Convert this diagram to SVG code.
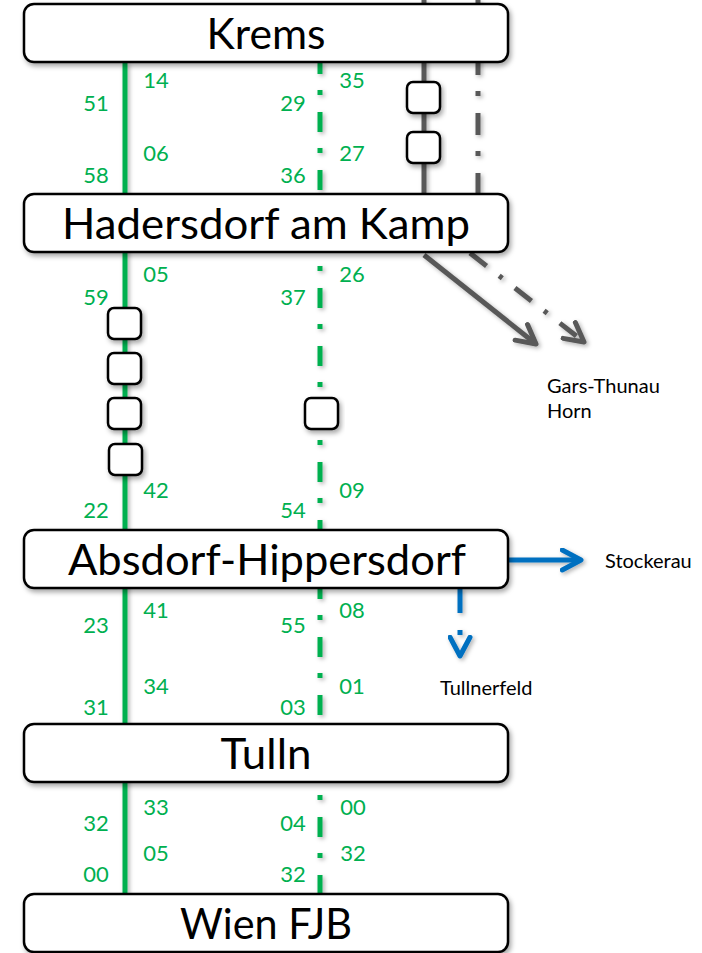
<svg xmlns="http://www.w3.org/2000/svg" width="702" height="953" viewBox="0 0 702 953">
<style>
.box{fill:#fff;stroke:#000;stroke-width:2.5;filter:url(#sh)}
.sq{fill:#fff;stroke:#000;stroke-width:2.5;filter:url(#sh)}
.st{font-family:Lato,"Open Sans",sans-serif;font-size:43px;fill:#000;text-anchor:middle}
.num{font-family:Lato,"Open Sans",sans-serif;font-size:22px;fill:#00B050;text-anchor:middle}
.lbl{font-family:Lato,"Open Sans",sans-serif;font-size:20px;fill:#000}
.g{stroke:#00B050;stroke-width:5;fill:none}
.gd{stroke:#00B050;stroke-width:5;fill:none;stroke-dasharray:20 16 5 17}
.k{stroke:#595959;stroke-width:5;fill:none}
.kd{stroke:#595959;stroke-width:5;fill:none;stroke-dasharray:22 16 5 17}
.b{stroke:#0070C0;stroke-width:5;fill:none}
</style>
<defs>
<filter id="sh" x="-20%" y="-20%" width="140%" height="160%">
<feDropShadow dx="2" dy="3" stdDeviation="2.5" flood-color="#000" flood-opacity="0.35"/>
</filter>
<filter id="lsh" x="-20%" y="-20%" width="140%" height="140%">
<feDropShadow dx="2" dy="2" stdDeviation="2" flood-color="#000" flood-opacity="0.3"/>
</filter>
<marker id="ak" viewBox="0 0 10 10" refX="8.5" refY="5" markerWidth="5" markerHeight="5" orient="auto" markerUnits="strokeWidth">
<path d="M1,1 L8.5,5 L1,9" fill="none" stroke="#595959" stroke-width="2" stroke-linecap="round" stroke-linejoin="round"/>
</marker>
<marker id="ab" viewBox="0 0 10 10" refX="8.5" refY="5" markerWidth="5" markerHeight="5" orient="auto" markerUnits="strokeWidth">
<path d="M1,1 L8.5,5 L1,9" fill="none" stroke="#0070C0" stroke-width="2" stroke-linecap="round" stroke-linejoin="round"/>
</marker>
</defs>

<g id="connectors" filter="url(#lsh)">
<line class="g" x1="125" y1="62" x2="125" y2="894"/>
<line class="gd" x1="320" y1="62" x2="320" y2="194" stroke-dashoffset="8"/>
<line class="gd" x1="320" y1="252" x2="320" y2="530" stroke-dashoffset="22"/>
<line class="gd" x1="320" y1="588" x2="320" y2="724" stroke-dashoffset="9"/>
<line class="gd" x1="320" y1="782" x2="320" y2="894" stroke-dashoffset="23"/>
<line class="k" x1="424" y1="0" x2="424" y2="194"/>
<line class="kd" x1="478" y1="0" x2="478" y2="194" stroke-dashoffset="7"/>
<line class="k" x1="424" y1="255" x2="536" y2="344" marker-end="url(#ak)"/>
<line class="kd" x1="470" y1="253" x2="584" y2="342" style="stroke-dasharray:21 16 4 16" marker-end="url(#ak)"/>
<line class="b" x1="508" y1="560" x2="581" y2="560" marker-end="url(#ab)"/>
<line class="b" x1="460" y1="588" x2="460" y2="656" style="stroke-dasharray:25 17 5 60" marker-end="url(#ab)"/>
</g>

<g id="times">
<text class="num" x="156" y="88">14</text><text class="num" x="96" y="111">51</text>
<text class="num" x="156" y="161">06</text><text class="num" x="96" y="183">58</text>
<text class="num" x="352" y="88">35</text><text class="num" x="293" y="111">29</text>
<text class="num" x="352" y="161">27</text><text class="num" x="293" y="183">36</text>
<text class="num" x="156" y="282">05</text><text class="num" x="96" y="305">59</text>
<text class="num" x="156" y="498">42</text><text class="num" x="96" y="518">22</text>
<text class="num" x="352" y="282">26</text><text class="num" x="293" y="305">37</text>
<text class="num" x="352" y="498">09</text><text class="num" x="293" y="518">54</text>
<text class="num" x="156" y="618">41</text><text class="num" x="96" y="633">23</text>
<text class="num" x="156" y="694">34</text><text class="num" x="96" y="715">31</text>
<text class="num" x="352" y="618">08</text><text class="num" x="293" y="633">55</text>
<text class="num" x="352" y="694">01</text><text class="num" x="293" y="715">03</text>
<text class="num" x="156" y="815">33</text><text class="num" x="96" y="831">32</text>
<text class="num" x="156" y="861">05</text><text class="num" x="96" y="882">00</text>
<text class="num" x="353" y="815">00</text><text class="num" x="293" y="831">04</text>
<text class="num" x="353" y="861">32</text><text class="num" x="293" y="882">32</text>
</g>

<g id="stops">
<rect id="s1" class="sq" x="407" y="82" width="33" height="31" rx="6"/>
<rect id="s2" class="sq" x="407" y="132" width="33" height="31" rx="6"/>
<rect id="s3" class="sq" x="108" y="308" width="33" height="31" rx="6"/>
<rect id="s4" class="sq" x="108" y="353" width="33" height="31" rx="6"/>
<rect id="s5" class="sq" x="108" y="398" width="33" height="31" rx="6"/>
<rect id="s6" class="sq" x="109" y="444" width="33" height="31" rx="6"/>
<rect id="s7" class="sq" x="305" y="398" width="33" height="31" rx="6"/>
</g>

<g id="krems"><rect class="box" x="24" y="4" width="484" height="58" rx="10"/><text class="st" x="266" y="49" textLength="119" lengthAdjust="spacingAndGlyphs">Krems</text></g>
<g id="hadersdorf"><rect class="box" x="24" y="194" width="484" height="58" rx="10"/><text class="st" x="266" y="239" textLength="408" lengthAdjust="spacingAndGlyphs">Hadersdorf am Kamp</text></g>
<g id="absdorf"><rect class="box" x="24" y="530" width="484" height="58" rx="10"/><text class="st" x="267" y="575" textLength="398" lengthAdjust="spacingAndGlyphs">Absdorf-Hippersdorf</text></g>
<g id="tulln"><rect class="box" x="24" y="724" width="484" height="58" rx="10"/><text class="st" x="266" y="769" textLength="91" lengthAdjust="spacingAndGlyphs">Tulln</text></g>
<g id="wien"><rect class="box" x="24" y="894" width="484" height="58" rx="10"/><text class="st" x="266" y="939" textLength="172" lengthAdjust="spacingAndGlyphs">Wien FJB</text></g>

<g id="labels">
<text class="lbl" x="547" y="393">Gars-Thunau</text>
<text class="lbl" x="547" y="418">Horn</text>
<text class="lbl" x="605" y="568">Stockerau</text>
<text class="lbl" x="440" y="695">Tullnerfeld</text>
</g>
</svg>
